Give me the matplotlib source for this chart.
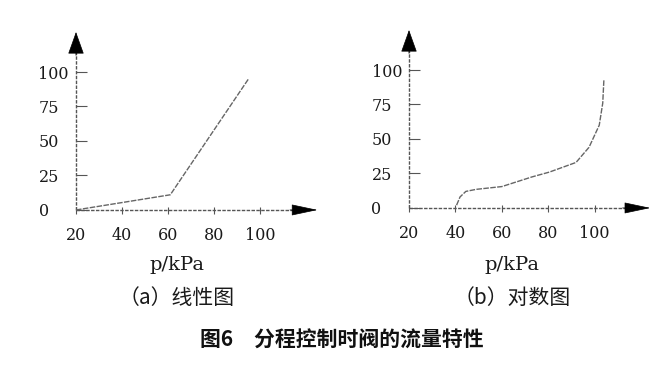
import matplotlib
matplotlib.use('Agg')
import matplotlib.pyplot as plt

# data
y_ticks = [0, 25, 50, 75, 100]
x_ticks = [20, 40, 60, 80, 100]

lin_p = [20, 61, 95]
lin_q = [0, 11, 95]

log_p = [40.5, 42, 44.5, 49, 60, 73, 80.5, 92, 97.6, 102, 103.5, 104]
log_q = [2, 8, 12, 13.5, 15.5, 22.5, 26, 33, 44, 60, 76, 93]

xlabel = 'p/kPa'
sub_a = '（a）线性图'
sub_b = '（b）对数图'
title = '图6　分程控制时阀的流量特性'

W, H = 670, 366
fig = plt.figure(figsize=(W / 100, H / 100), dpi=100)

axis_col = '#555555'
line_col = '#666666'


def panel(rect, xmax, px, py):
    ax = fig.add_axes(rect)
    ax.set_xlim(20, xmax)
    ax.set_ylim(-3, 129)
    for s in ax.spines.values():
        s.set_visible(False)
    ax.patch.set_alpha(0)
    # dashed axis lines
    ax.plot([20, xmax - 9], [0, 0], color=axis_col, lw=1.0, ls=(0, (2.5, 1)), clip_on=False)
    ax.plot([20, 20], [0, 116], color=axis_col, lw=1.0, ls=(0, (2.5, 1)), clip_on=False)
    # arrow heads
    ax.annotate('', xy=(xmax, 0), xytext=(xmax - 12, 0),
                arrowprops=dict(arrowstyle='-|>,head_length=1.7,head_width=0.36',
                                color='black', lw=0.5, shrinkA=0, shrinkB=0),
                annotation_clip=False)
    ax.annotate('', xy=(20, 129), xytext=(20, 112),
                arrowprops=dict(arrowstyle='-|>,head_length=1.45,head_width=0.52',
                                color='black', lw=0.5, shrinkA=0, shrinkB=0),
                annotation_clip=False)
    ax.plot(px, py, color=line_col, lw=1.0, ls=(0, (4, 1)), clip_on=False)
    ax.set_xticks(x_ticks)
    ax.set_yticks(y_ticks)
    ax.tick_params(axis='x', direction='in', length=5, color=axis_col, pad=9,
                   labelsize=11.5)
    ax.tick_params(axis='y', direction='in', length=8, color=axis_col, pad=27,
                   labelsize=11.5)
    for lab in ax.get_xticklabels() + ax.get_yticklabels():
        lab.set_family('DejaVu Serif')
        lab.set_color('#1a1a1a')
    for lab in ax.get_yticklabels():
        lab.set_horizontalalignment('left')
    return ax


panel([76 / W, 1 - 214.1 / H, 241.5 / W, 182.1 / H], 125, lin_p, lin_q)
panel([409 / W, 1 - 212.1 / H, 241.3 / W, 182.1 / H], 124, log_p, log_q)

for cx, sub in [(177, sub_a), (512, sub_b)]:
    fig.text(cx / W, 1 - 265 / H, xlabel, ha='center', va='center',
             family='DejaVu Serif', fontsize=14, color='#1a1a1a')
    fig.text(cx / W, 1 - 298 / H, sub, ha='center', va='center',
             family=['Noto Sans CJK SC', 'DejaVu Sans'], fontsize=15,
             weight='light', color='#1a1a1a')

fig.text(342 / W, 1 - 340 / H, title, ha='center', va='center',
         family=['Noto Sans CJK SC', 'DejaVu Sans'], fontsize=15,
         weight='bold', color='#111111')

fig.savefig('out.png', dpi=100)
